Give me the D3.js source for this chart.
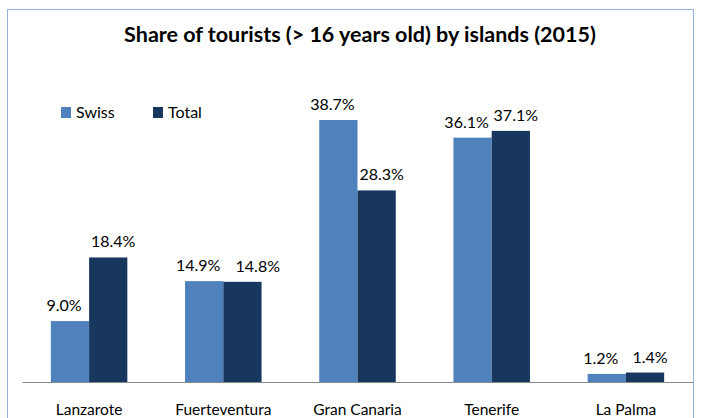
<!DOCTYPE html>
<html>
<head>
<meta charset="utf-8">
<script src="https://cdn.jsdelivr.net/npm/d3@7"></script>
<style>
  body { margin: 0; background: #fff; }
  svg { font-family: Lato, "Open Sans", sans-serif; }
</style>
</head>
<body>
<div class="container"></div>
<script>
const islands = ["Lanzarote", "Fuerteventura", "Gran Canaria", "Tenerife", "La Palma"];
const swiss = [9.0, 14.9, 38.7, 36.1, 1.2];
const total = [18.4, 14.8, 28.3, 37.1, 1.4];
const seriesNames = ["Swiss", "Total"];
const colors = ["#4f81bd", "#17375e"];

const w = 706;
const h = 418;

const svg = d3.select(".container")
  .append("svg")
  .attr("width", w)
  .attr("height", h);

// chart frame
svg.append("rect")
  .attr("x", 7.5)
  .attr("y", 9.5)
  .attr("width", 686)
  .attr("height", 420)
  .attr("fill", "#fff")
  .attr("stroke", "#95b3d7")
  .attr("stroke-width", 1);

svg.append("text")
  .attr("x", 360)
  .attr("y", 42)
  .attr("text-anchor", "middle")
  .attr("font-size", 21.5)
  .attr("font-weight", "bold")
  .attr("fill", "#000")
  .text("Share of tourists (> 16 years old) by islands (2015)");

const xScale = d3.scaleBand()
  .domain(islands)
  .range([22, 693])
  .paddingInner(0.43)
  .paddingOuter(0.215);

const xInner = d3.scaleBand()
  .domain(seriesNames)
  .range([0, xScale.bandwidth()]);

const yScale = d3.scaleLinear()
  .domain([0, 45])
  .range([382, 77.4]);

const data = islands.map((d, i) => ({ island: d, values: [swiss[i], total[i]] }));

const groups = svg.selectAll("g.island")
  .data(data)
  .enter()
  .append("g")
  .attr("class", "island")
  .attr("transform", (d) => "translate(" + xScale(d.island) + ",0)");

groups.selectAll("rect")
  .data((d) => d.values.map((v, j) => ({ name: seriesNames[j], value: v, color: colors[j] })))
  .enter()
  .append("rect")
  .attr("x", (d) => xInner(d.name))
  .attr("y", (d) => yScale(d.value))
  .attr("width", xInner.bandwidth())
  .attr("height", (d) => yScale(0) - yScale(d.value))
  .attr("fill", (d) => d.color);

// labels sit a little outward from the bar centre, like the original
groups.each(function(d) {
  const g = d3.select(this);
  const labels = g.selectAll("text")
    .data(d.values.map((v, j) => ({ name: seriesNames[j], value: v, j: j })))
    .enter()
    .append("text")
    .attr("x", (e) => xInner(e.name) + xInner.bandwidth() / 2 + (e.j === 0 ? -6 : 5))
    .attr("y", (e) => yScale(e.value) - 10)
    .attr("text-anchor", "middle")
    .attr("font-size", 16)
    .attr("fill", "#000")
    .text((e) => d3.format(".1f")(e.value) + "%");

  // push the second label right when both sit on the same line and collide
  const nodes = labels.nodes();
  const a = nodes[0].getBBox();
  const b = nodes[1].getBBox();
  if (Math.abs(a.y - b.y) < 3 && a.x + a.width + 8 > b.x) {
    const shift = a.x + a.width + 15 - b.x;
    d3.select(nodes[1]).attr("x", +d3.select(nodes[1]).attr("x") + shift);
  }
});

const xAxis = d3.axisBottom(xScale).tickSize(0).tickPadding(22);
const gx = svg.append("g")
  .attr("transform", "translate(0,382)")
  .call(xAxis);
gx.select(".domain").attr("stroke", "#888");
gx.selectAll("text")
  .attr("font-size", 15.5)
  .attr("font-family", "Lato, sans-serif")
  .attr("fill", "#000");

// legend
const legend = svg.selectAll("g.legend")
  .data(seriesNames)
  .enter()
  .append("g")
  .attr("class", "legend")
  .attr("transform", (d, i) => "translate(" + (61 + i * 92) + ",107)");

legend.append("rect")
  .attr("width", 10)
  .attr("height", 11)
  .attr("fill", (d, i) => colors[i]);

legend.append("text")
  .attr("x", 15)
  .attr("y", 11)
  .attr("font-size", 16)
  .attr("fill", "#000")
  .text((d) => d);
</script>
</body>
</html>
